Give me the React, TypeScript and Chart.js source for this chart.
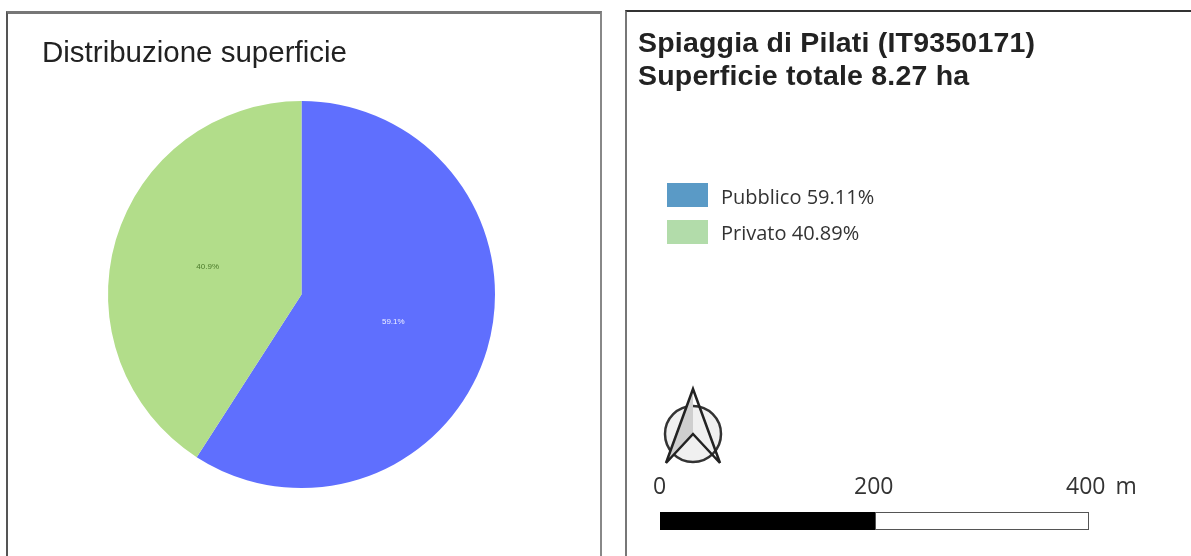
import React, { useEffect, useRef } from "react";
import { Chart, registerables } from "chart.js";

Chart.register(...registerables);

const categories = ["Pubblico", "Privato"];
const areaShare = [59.11, 40.89];
const sliceLabels = ["59.1%", "40.9%"];
const sliceColors = ["#5f6ffe", "#b2dd8a"];
const sliceLabelColors = ["#eef0ff", "#4a7a2a"];
const legendColors = ["#5a9ac6", "#b2dcaa"];
const legendValues = ["59.11%", "40.89%"];
const scaleTicks = ["0", "200", "400 m"];
const chartTitle = "Distribuzione superficie";
const mapTitle = ["Spiaggia di Pilati (IT9350171)", "Superficie totale 8.27 ha"];

const sliceLabelPlugin = {
  id: "sliceLabels",
  afterDatasetsDraw(chart: any) {
    const { ctx } = chart;
    chart.getDatasetMeta(0).data.forEach((arc: any, i: number) => {
      const p = arc.tooltipPosition();
      ctx.save();
      ctx.font = '8px "Liberation Sans"';
      ctx.fillStyle = sliceLabelColors[i];
      ctx.textAlign = "center";
      ctx.textBaseline = "middle";
      ctx.fillText(sliceLabels[i], p.x - 1, p.y);
      ctx.restore();
    });
  },
};

const abs = (s: React.CSSProperties): React.CSSProperties => ({ position: "absolute", whiteSpace: "nowrap", ...s });

export default function App() {
  const ref = useRef<HTMLCanvasElement>(null);
  useEffect(() => {
    const chart = new Chart(ref.current as HTMLCanvasElement, {
      type: "pie",
      data: {
        labels: categories,
        datasets: [{ data: areaShare, backgroundColor: sliceColors, borderWidth: 0 }],
      },
      options: {
        animation: false,
        responsive: false,
        layout: { padding: { left: 108, right: 696, top: 101, bottom: 68 } },
        plugins: { legend: { display: false }, tooltip: { enabled: false }, title: { display: false } },
      },
      plugins: [sliceLabelPlugin],
    });
    return () => chart.destroy();
  }, []);

  return (
    <div style={{ position: "fixed", left: 0, top: 0, width: 1191, height: 556, overflow: "hidden", background: "#fff", filter: "blur(0.6px)" }}>
      <div style={abs({ left: 6, top: 11, width: 592, height: 560, borderLeft: "2px solid #555", borderTop: "3px solid #777", borderRight: "2px solid #888" })} />
      <div style={abs({ left: 625, top: 10, width: 580, height: 560, borderLeft: "2px solid #777", borderTop: "2px solid #333" })} />
      <canvas ref={ref} width={1191} height={556} style={{ position: "absolute", left: 0, top: 0 }} />

      <div style={abs({ left: 42, top: 35, font: '29.5px "Liberation Sans"', color: "#222" })}>{chartTitle}</div>
      {mapTitle.map((t, i) => (
        <div key={t} style={abs({ left: 638, top: 26 + i * 33, font: 'bold 28.5px "Liberation Sans"', letterSpacing: 0.2, color: "#222" })}>{t}</div>
      ))}

      {categories.map((c, i) => (
        <React.Fragment key={c}>
          <div style={abs({ left: 667, top: 183 + i * 37, width: 41, height: 24, background: legendColors[i] })} />
          <div style={abs({ left: 721, top: 183 + i * 36, font: '20px "Open Sans"', color: "#333" })}>{`${c} ${legendValues[i]}`}</div>
        </React.Fragment>
      ))}

      <svg width={70} height={90} style={{ position: "absolute", left: 658, top: 382 }}>
        <circle cx={35} cy={52} r={28} fill="#f0f0f0" stroke="#333" strokeWidth={2.5} />
        <polygon points="35,7 8,81 35,52" fill="#cfcfcf" />
        <polygon points="35,7 62,81 35,52 8,81" fill="none" stroke="#222" strokeWidth={2.5} strokeLinejoin="miter" />
      </svg>

      {scaleTicks.map((t, i) => (
        <div key={t} style={abs({ left: [653, 854, 1066][i], top: 469, font: '23px "Open Sans"', wordSpacing: 4, color: "#333" })}>{t}</div>
      ))}
      <div style={abs({ left: 660, top: 512, width: 215, height: 18, background: "#000" })} />
      <div style={abs({ left: 875, top: 512, width: 212, height: 16, border: "1px solid #555", background: "#fff" })} />
    </div>
  );
}
